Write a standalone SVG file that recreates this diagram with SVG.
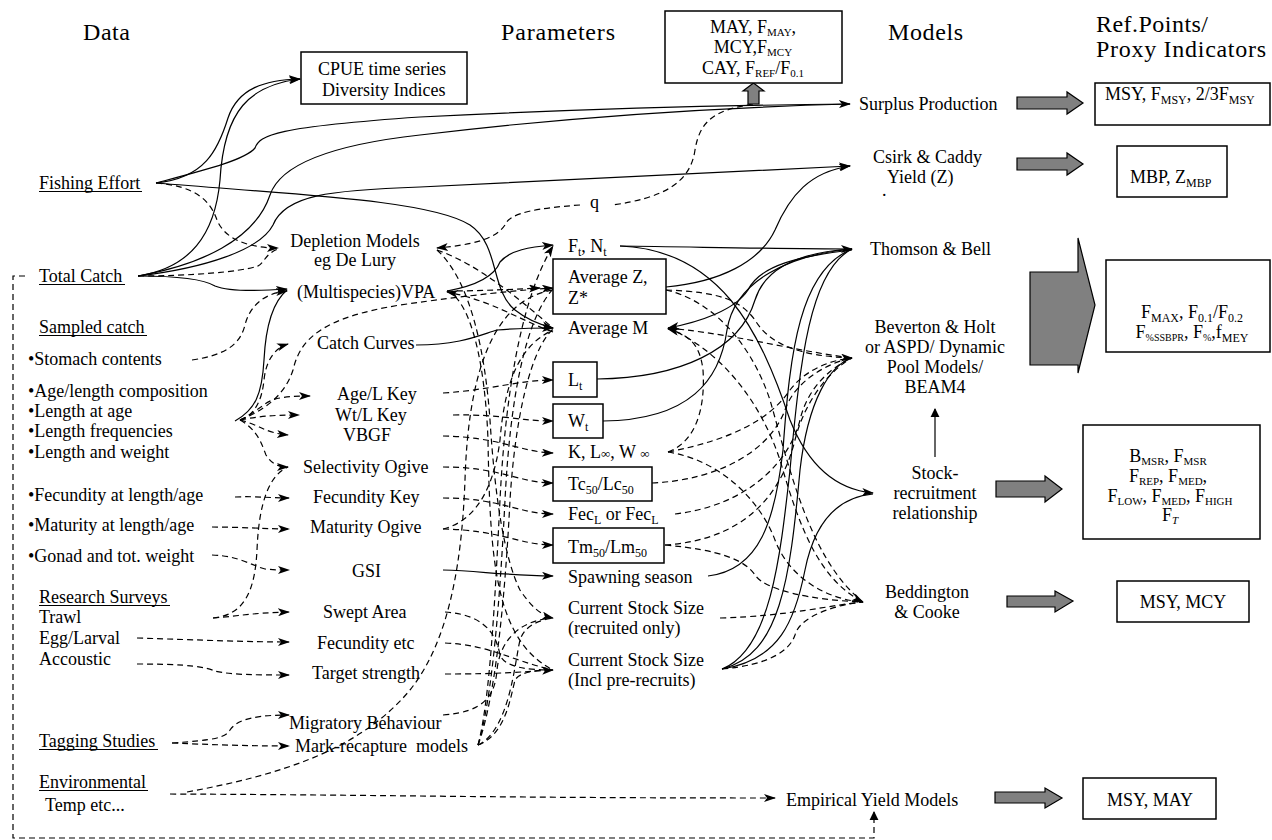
<svg xmlns="http://www.w3.org/2000/svg" width="1272" height="840" viewBox="0 0 1272 840" font-family="'Liberation Serif','Times New Roman',serif">
<style>
text{font-family:"Liberation Serif","Times New Roman",serif;font-size:18px;fill:#000}
.h{font-size:24px}
.c{text-anchor:middle}
.box{fill:#fff;stroke:#000;stroke-width:1.5}
.s{fill:none;stroke:#000;stroke-width:1.2}
.d{fill:none;stroke:#000;stroke-width:1.2;stroke-dasharray:6 4}
.blk{fill:#808080;stroke:#000;stroke-width:1.2}
.ul{stroke:#000;stroke-width:1.2}
</style>
<defs>
<marker id="ah" viewBox="0 0 12 8" refX="11" refY="4" markerWidth="12" markerHeight="8" markerUnits="userSpaceOnUse" orient="auto-start-reverse"><path d="M0,0 L12,4 L0,8 L3,4 z" fill="#000"/></marker>
<marker id="tri" viewBox="0 0 10 10" refX="9" refY="5" markerWidth="9" markerHeight="10" markerUnits="userSpaceOnUse" orient="auto"><path d="M0,0 L10,5 L0,10 z" fill="#000"/></marker>
</defs>
<rect width="1272" height="840" fill="#fff"/>

<g id="headers">
<text class="h" x="83" y="40" textLength="47" lengthAdjust="spacing">Data</text>
<text class="h" x="501" y="40" textLength="114" lengthAdjust="spacing">Parameters</text>
<text class="h" x="888" y="40" textLength="75" lengthAdjust="spacing">Models</text>
<text class="h" x="1096" y="32" textLength="112" lengthAdjust="spacing">Ref.Points/</text>
<text class="h" x="1096" y="57" textLength="170" lengthAdjust="spacing">Proxy Indicators</text>
</g>

<g id="connectors">
<path class="s" marker-end="url(#ah)" d="M156,183 C205,178 218,150 228,118 C238,88 265,80 300,79"/>
<path class="s" marker-end="url(#ah)" d="M138,276 C190,268 215,235 220,180 C224,110 250,85 300,79"/>
<path class="s" marker-end="url(#ah)" d="M156,183 C205,170 245,160 255,148 C260,135 275,127 420,117 C600,108 750,105 850,104"/>
<path class="s" d="M138,276 C200,265 255,240 270,195 C280,165 330,145 420,135 C560,118 700,108 850,104"/>
<path class="s" marker-end="url(#ah)" d="M138,276 C205,268 260,250 273,225 C285,195 330,190 420,187 C600,178 750,170 850,166"/>
<path class="s" marker-end="url(#ah)" d="M156,183 C300,195 430,200 470,225 C500,245 490,290 515,310 C530,322 545,326 553,328"/>
<path class="s" marker-end="url(#ah)" d="M138,276 C185,276 205,280 215,286 C230,292 260,291 287,289"/>
<path class="s" d="M235,421 C255,410 262,395 264,360 C266,320 275,300 287,290"/>
<path class="s" marker-end="url(#ah)" d="M416,345 C460,345 480,335 497,330 C520,328 540,328 553,328"/>
<path class="s" marker-end="url(#ah)" d="M447,291 C480,285 495,275 500,262 C510,250 530,247 553,245"/>
<path class="s" marker-end="url(#ah)" d="M443,570 C480,571 500,575 553,576"/>
<path class="s" marker-end="url(#ah)" d="M620,246 C700,247 780,249 852,249"/>
<path class="s" marker-end="url(#ah)" d="M620,246 C720,250 760,330 790,420 C810,470 840,490 873,493"/>
<path class="s" marker-end="url(#ah)" d="M666,287 C720,282 760,262 775,230 C790,195 810,172 850,166"/>
<path class="s" d="M597,379 C680,378 740,350 755,300 C765,268 800,252 852,249"/>
<path class="s" d="M603,421 C690,420 720,380 727,330 C735,280 790,255 852,249"/>
<path class="s" marker-end="url(#ah)" d="M852,250 C800,256 760,265 748,290 C735,310 700,322 668,328"/>
<path class="s" d="M708,576 C760,570 775,520 783,450 C790,350 800,270 852,249"/>
<path class="s" d="M722,669 C770,650 780,560 790,470 C800,360 810,270 852,249"/>
<path class="s" d="M722,669 C780,655 790,580 800,470 C808,400 830,365 852,358"/>
<path class="s" d="M722,669 C780,660 795,620 805,570 C815,520 840,497 873,494"/>
<path class="d" marker-end="url(#ah)" d="M156,183 C195,186 210,200 217,220 C225,240 250,248 278,248"/>
<path class="d" d="M138,276 C190,276 240,272 258,266 C265,262 265,254 278,249"/>
<path class="d" marker-end="url(#ah)" d="M192,360 C225,355 240,345 245,325 C250,305 265,293 287,291"/>
<path class="d" marker-end="url(#ah)" d="M240,420 C255,415 262,400 264,380 C266,360 275,348 288,344"/>
<path class="d" marker-end="url(#ah)" d="M240,420 C258,412 265,400 280,398 C290,396 300,396 310,396"/>
<path class="d" marker-end="url(#ah)" d="M240,420 C260,416 275,415 299,415"/>
<path class="d" marker-end="url(#ah)" d="M240,420 C260,425 265,433 288,435"/>
<path class="d" marker-end="url(#ah)" d="M240,420 C258,430 262,445 266,455 C272,465 280,467 288,467"/>
<path class="d" marker-end="url(#ah)" d="M240,420 C265,410 285,395 293,370 C300,340 320,318 400,305 C470,295 520,290 553,288"/>
<path class="d" marker-end="url(#ah)" d="M235,497 C255,496 270,498 289,498"/>
<path class="d" marker-end="url(#ah)" d="M212,527 C240,527 270,529 289,529"/>
<path class="d" marker-end="url(#ah)" d="M212,555 C240,556 250,565 265,569 C275,570 280,570 289,570"/>
<path class="d" d="M213,618 C245,615 255,590 257,550 C259,500 270,475 288,467"/>
<path class="d" marker-end="url(#ah)" d="M213,618 C240,616 250,613 289,612"/>
<path class="d" marker-end="url(#ah)" d="M137,638 C200,640 250,642 289,642"/>
<path class="d" marker-end="url(#ah)" d="M137,664 C190,664 205,667 215,671 C230,675 260,675 289,675"/>
<path class="d" marker-end="url(#ah)" d="M172,743 C215,740 225,738 230,730 C238,718 260,715 289,715"/>
<path class="d" marker-end="url(#ah)" d="M172,743 C220,745 250,746 289,746"/>
<path class="d" marker-end="url(#ah)" d="M170,794 C400,795 500,798 775,798"/>
<path class="d" d="M187,792 C280,775 360,750 410,690 C450,640 462,560 465,480 C468,380 490,300 553,290"/>
<path class="d" marker-end="url(#tri)" d="M25,276 H13 V838 H874 V812"/>
<path class="d" d="M753,104 C715,110 700,120 695,150 C690,185 660,198 613,205"/>
<path class="d" marker-end="url(#ah)" d="M580,205 C540,208 510,212 505,225 C495,240 470,245 437,248"/>
<path class="d" d="M437,250 C480,265 520,300 553,328"/>
<path class="d" marker-end="url(#ah)" d="M437,250 C470,280 485,350 490,420 C495,500 505,560 520,590 C530,605 540,615 553,618"/>
<path class="d" marker-end="url(#ah)" d="M447,291 C480,291 520,289 540,288"/>
<path class="d" marker-end="url(#ah)" d="M553,332 C520,320 490,300 447,292"/>
<path class="d" d="M447,291 C470,300 485,360 488,440 C490,560 495,640 553,670"/>
<path class="d" marker-end="url(#ah)" d="M443,393 C490,390 520,380 553,380"/>
<path class="d" marker-end="url(#ah)" d="M453,415 C500,414 520,421 553,421"/>
<path class="d" marker-end="url(#ah)" d="M443,436 C500,437 520,452 553,453"/>
<path class="d" marker-end="url(#ah)" d="M443,467 C500,467 520,483 553,483"/>
<path class="d" marker-end="url(#ah)" d="M443,498 C500,498 520,514 553,514"/>
<path class="d" marker-end="url(#ah)" d="M443,529 C500,530 520,545 553,545"/>
<path class="d" d="M443,529 C480,520 495,480 500,440 C505,380 520,345 553,330"/>
<path class="d" d="M445,612 C490,615 497,640 500,655 C505,668 530,670 553,670"/>
<path class="d" d="M445,643 C490,645 510,660 553,670"/>
<path class="d" marker-end="url(#ah)" d="M445,674 C500,674 520,672 553,670"/>
<path class="d" d="M443,715 C485,712 495,695 497,670 C500,640 520,620 553,618"/>
<path class="d" d="M478,745 C505,735 510,700 515,680 C520,672 535,670 553,670"/>
<path class="d" d="M478,745 C510,730 515,660 520,640 C525,625 540,620 553,618"/>
<path class="d" marker-end="url(#ah)" d="M478,745 C490,700 495,600 500,500 C505,400 520,300 553,246"/>
<path class="d" d="M478,745 C492,700 500,600 505,500 C510,400 525,320 553,289"/>
<path class="d" d="M478,745 C495,700 505,600 510,500 C515,420 530,350 553,329"/>
<path class="d" marker-end="url(#ah)" d="M666,290 C720,292 740,300 755,320 C770,345 800,356 852,358"/>
<path class="d" d="M668,328 C740,335 790,350 852,358"/>
<path class="d" marker-end="url(#ah)" d="M668,452 C700,440 705,400 703,370 C700,345 690,335 668,329"/>
<path class="d" d="M668,452 C730,440 770,420 790,390 C805,370 830,360 852,358"/>
<path class="d" d="M668,452 C720,460 760,500 775,540 C790,580 830,600 863,602"/>
<path class="d" d="M652,483 C720,480 770,450 785,410 C795,380 830,362 852,358"/>
<path class="d" d="M675,514 C750,505 790,460 800,420 C808,385 835,365 852,358"/>
<path class="d" d="M665,545 C740,540 780,500 795,440 C805,400 830,370 852,358"/>
<path class="d" d="M665,545 C720,550 745,560 755,575 C765,590 810,600 863,602"/>
<path class="d" d="M720,618 C790,616 830,605 863,602"/>
<path class="d" d="M722,669 C770,665 790,650 795,635 C800,615 840,604 863,602"/>
<path class="d" d="M666,290 C710,300 750,340 770,400 C790,470 810,560 863,602"/>
<path class="d" marker-end="url(#ah)" d="M668,328 C720,350 760,400 780,460 C800,530 820,580 863,602"/>
<line x1="935" y1="457" x2="935" y2="409" stroke="#333" stroke-width="1.5" marker-end="url(#tri)"/>
</g>

<g id="block-arrows">
<polygon class="blk" points="748,104 748,91 743,91 753.5,83 764,91 759,91 759,104"/>
<polygon class="blk" points="1017,97 1067,97 1067,92 1083,103 1067,114 1067,109 1017,109"/>
<polygon class="blk" points="1017,158 1067,158 1067,153 1083,164 1067,175 1067,170 1017,170"/>
<polygon class="blk" points="1030,272 1078,272 1078,238 1095,305 1078,373 1078,365 1030,365"/>
<polygon class="blk" points="996,481 1045,481 1045,476 1062,489 1045,502 1045,497 996,497"/>
<polygon class="blk" points="1007,596 1055,596 1055,591 1073,601 1055,612 1055,607 1007,607"/>
<polygon class="blk" points="995,792 1045,792 1045,788 1062,798 1045,808 1045,803 995,803"/>
</g>

<g id="n-cpue"><rect class="box" x="301" y="52" width="166" height="52"/><text x="318" y="75">CPUE time series</text><text x="322" y="96">Diversity Indices</text></g>
<g id="n-fishing-effort"><text x="39" y="189">Fishing Effort</text><line class="ul" x1="39" y1="191.5" x2="142" y2="191.5"/></g>
<g id="n-total-catch"><text x="39" y="282">Total Catch</text><line class="ul" x1="39" y1="284.5" x2="125" y2="284.5"/></g>
<g id="n-sampled-catch"><text x="39" y="333">Sampled catch</text><line class="ul" x1="39" y1="335.5" x2="147" y2="335.5"/>
<text x="28" y="365">•Stomach contents</text>
<text x="28" y="397">•Age/length composition</text>
<text x="28" y="417">•Length at age</text>
<text x="28" y="437">•Length frequencies</text>
<text x="28" y="458">•Length and weight</text>
<text x="28" y="501">•Fecundity at length/age</text>
<text x="28" y="531">•Maturity at length/age</text>
<text x="28" y="562">•Gonad and tot. weight</text></g>
<g id="n-research-surveys"><text x="39" y="603">Research Surveys</text><line class="ul" x1="39" y1="605.5" x2="170" y2="605.5"/>
<text x="39" y="623">Trawl</text><text x="39" y="644">Egg/Larval</text><text x="39" y="665">Accoustic</text></g>
<g id="n-tagging"><text x="39" y="747">Tagging Studies</text><line class="ul" x1="39" y1="749.5" x2="158" y2="749.5"/></g>
<g id="n-environmental"><text x="39" y="788">Environmental</text><line class="ul" x1="39" y1="790.5" x2="148" y2="790.5"/><text x="45" y="811">Temp etc...</text></g>

<g id="n-depletion"><text class="c" x="355" y="247">Depletion Models</text><text class="c" x="355" y="266">eg De Lury</text></g>
<g id="n-vpa"><text x="297" y="298">(Multispecies)VPA</text></g>
<g id="n-catch-curves"><text x="317" y="349">Catch Curves</text></g>
<g id="n-agel-key"><text x="337" y="400">Age/L Key</text></g>
<g id="n-wtl-key"><text x="335" y="421">Wt/L Key</text></g>
<g id="n-vbgf"><text x="343" y="441">VBGF</text></g>
<g id="n-selectivity"><text x="303" y="473">Selectivity Ogive</text></g>
<g id="n-fecundity-key"><text x="313" y="503">Fecundity Key</text></g>
<g id="n-maturity-ogive"><text x="310" y="533">Maturity Ogive</text></g>
<g id="n-gsi"><text x="352" y="577">GSI</text></g>
<g id="n-swept"><text x="323" y="618">Swept Area</text></g>
<g id="n-fecundity-etc"><text x="317" y="649">Fecundity etc</text></g>
<g id="n-target"><text x="312" y="679">Target strength</text></g>
<g id="n-migratory"><text x="289" y="729">Migratory Behaviour</text></g>
<g id="n-mark"><text x="295" y="752" xml:space="preserve">Mark-recapture  models</text></g>

<g id="n-may"><rect class="box" x="665" y="11" width="177" height="72"/>
<text class="c" x="753" y="33">MAY, F<tspan dy="3" font-size="11">MAY</tspan><tspan dy="-3">,</tspan></text>
<text class="c" x="753" y="53">MCY,F<tspan dy="3" font-size="11">MCY</tspan></text>
<text class="c" x="753" y="74">CAY, F<tspan dy="3" font-size="11">REF</tspan><tspan dy="-3">/F</tspan><tspan dy="3" font-size="11">0.1</tspan></text></g>
<g id="n-q"><text x="590" y="208">q</text></g>
<g id="n-ft"><text x="568" y="252">F<tspan dy="4" font-size="12">t</tspan><tspan dy="-4">, N</tspan><tspan dy="4" font-size="12">t</tspan></text></g>
<g id="n-avgz"><rect class="box" x="553" y="259" width="113" height="55"/><text x="568" y="283">Average Z,</text><text x="568" y="304">Z*</text></g>
<g id="n-avgm"><text x="568" y="334">Average M</text></g>
<g id="n-lt"><rect class="box" x="553" y="362" width="44" height="35"/><text x="568" y="386">L<tspan dy="4" font-size="12">t</tspan></text></g>
<g id="n-wt"><rect class="box" x="553" y="404" width="50" height="34"/><text x="568" y="427">W<tspan dy="4" font-size="12">t</tspan></text></g>
<g id="n-k"><text x="568" y="458">K, L<tspan font-size="13">∞</tspan>, W <tspan font-size="13">∞</tspan></text></g>
<g id="n-tc"><rect class="box" x="553" y="467" width="99" height="34"/><text x="568" y="490">Tc<tspan dy="4" font-size="12">50</tspan><tspan dy="-4">/Lc</tspan><tspan dy="4" font-size="12">50</tspan></text></g>
<g id="n-fec"><text x="568" y="520">Fec<tspan dy="4" font-size="12">L</tspan><tspan dy="-4"> or Fec</tspan><tspan dy="4" font-size="12">L</tspan></text></g>
<g id="n-tm"><rect class="box" x="553" y="528" width="111" height="35"/><text x="568" y="553">Tm<tspan dy="4" font-size="12">50</tspan><tspan dy="-4">/Lm</tspan><tspan dy="4" font-size="12">50</tspan></text></g>
<g id="n-spawning"><text x="568" y="583">Spawning season</text></g>
<g id="n-css-rec"><text x="568" y="614">Current Stock Size</text><text x="568" y="634">(recruited only)</text></g>
<g id="n-css-incl"><text x="568" y="666">Current Stock Size</text><text x="568" y="686">(Incl pre-recruits)</text></g>

<g id="n-surplus"><text x="859" y="110">Surplus Production</text></g>
<g id="n-csirk"><text x="873" y="163">Csirk &amp; Caddy</text><text x="887" y="183">Yield (Z)</text><text x="882" y="196" font-size="8">.</text></g>
<g id="n-thomson"><text x="870" y="255">Thomson &amp; Bell</text></g>
<g id="n-beverton"><text class="c" x="935" y="333">Beverton &amp; Holt</text><text class="c" x="935" y="353">or ASPD/ Dynamic</text><text class="c" x="935" y="373">Pool Models/</text><text class="c" x="935" y="393">BEAM4</text></g>
<g id="n-stock"><text class="c" x="935" y="479">Stock-</text><text class="c" x="935" y="499">recruitment</text><text class="c" x="935" y="519">relationship</text></g>
<g id="n-beddington"><text class="c" x="927" y="598">Beddington</text><text class="c" x="927" y="618">&amp; Cooke</text></g>
<g id="n-empirical"><text x="786" y="806">Empirical Yield Models</text></g>

<g id="r-msy"><rect class="box" x="1095" y="83" width="175" height="42"/><text x="1105" y="100">MSY, F<tspan dy="4" font-size="12">MSY</tspan><tspan dy="-4">, 2/3F</tspan><tspan dy="4" font-size="12">MSY</tspan></text></g>
<g id="r-mbp"><rect class="box" x="1117" y="146" width="110" height="51"/><text x="1130" y="183">MBP, Z<tspan dy="4" font-size="12">MBP</tspan></text></g>
<g id="r-fmax"><rect class="box" x="1106" y="260" width="164" height="92"/>
<text class="c" x="1192" y="318">F<tspan dy="4" font-size="12">MAX</tspan><tspan dy="-4">, F</tspan><tspan dy="4" font-size="12">0.1</tspan><tspan dy="-4">/F</tspan><tspan dy="4" font-size="12">0.2</tspan></text>
<text class="c" x="1192" y="338">F<tspan dy="3" font-size="10">%SSBPR</tspan><tspan dy="-3">, F</tspan><tspan dy="3" font-size="10">%</tspan><tspan dy="-3">,f</tspan><tspan dy="4" font-size="12">MEY</tspan></text></g>
<g id="r-bmsr"><rect class="box" x="1083" y="425" width="177" height="114"/>
<text class="c" x="1168" y="462">B<tspan dy="3" font-size="11">MSR</tspan><tspan dy="-3">, F</tspan><tspan dy="3" font-size="11">MSR</tspan></text>
<text class="c" x="1168" y="482">F<tspan dy="3" font-size="11">REP</tspan><tspan dy="-3">, F</tspan><tspan dy="3" font-size="11">MED</tspan><tspan dy="-3">,</tspan></text>
<text class="c" x="1170" y="502">F<tspan dy="3" font-size="11">LOW</tspan><tspan dy="-3">, F</tspan><tspan dy="3" font-size="11">MED</tspan><tspan dy="-3">, F</tspan><tspan dy="3" font-size="11">HIGH</tspan></text>
<text class="c" x="1170" y="521">F<tspan dy="3" font-size="11" font-style="italic">T</tspan></text></g>
<g id="r-msy-mcy"><rect class="box" x="1117" y="581" width="132" height="41"/><text class="c" x="1183" y="608">MSY, MCY</text></g>
<g id="r-msy-may"><rect class="box" x="1083" y="778" width="133" height="41"/><text class="c" x="1150" y="806">MSY, MAY</text></g>
</svg>
